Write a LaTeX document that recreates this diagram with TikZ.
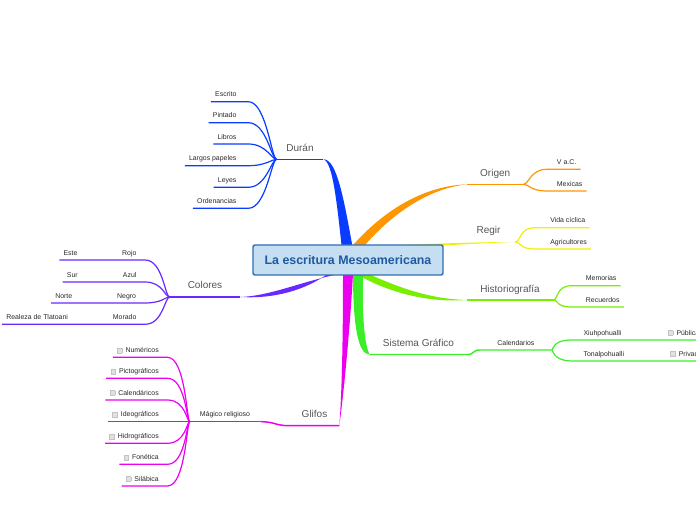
\documentclass[tikz,border=0pt]{standalone}
\usepackage{fontspec}
\setmainfont{Liberation Sans}
\usepackage{tikz}
\usetikzlibrary{backgrounds}
\definecolor{cRootFill}{RGB}{198,222,242}
\definecolor{cRootLine}{RGB}{46,110,180}
\definecolor{cRootText}{RGB}{30,90,160}
\definecolor{cDuran}{RGB}{10,60,255}
\definecolor{cOrigen}{RGB}{255,150,0}
\definecolor{cRegir}{RGB}{240,240,0}
\definecolor{cHisto}{RGB}{120,238,0}
\definecolor{cSistema}{RGB}{60,238,40}
\definecolor{cColores}{RGB}{105,40,255}
\definecolor{cGlifos}{RGB}{235,0,240}
\definecolor{cLabel}{RGB}{85,85,85}
\definecolor{cLeaf}{RGB}{40,40,40}
\definecolor{cChkFill}{RGB}{225,225,225}
\definecolor{cChkLine}{RGB}{195,195,195}
\newcommand{\chkbx}{{\setlength{\fboxsep}{0pt}\setlength{\fboxrule}{0.4pt}\fcolorbox{cChkLine}{cChkFill}{\rule{0pt}{3.2pt}\rule{3.2pt}{0pt}}}\hspace{2.4pt}}
\tikzset{
	root/.style  ={rectangle, draw=cRootLine, fill=cRootFill, line width=1.1pt, rounded corners=1.5pt, minimum width=142.5pt, minimum height=22.5pt, font=\bfseries\fontsize{9.3}{11}\selectfont, text=cRootText},
	branch/.style={anchor=south, inner xsep=0pt, inner ysep=5.8pt, text depth=0pt, font=\fontsize{7.5}{9}\selectfont, text=cLabel},
	leaf/.style  ={inner xsep=3pt, inner ysep=3.4pt, text depth=0pt, font=\fontsize{5.2}{6}\selectfont, text=cLeaf},
	leafL/.style ={leaf, anchor=south east},
	leafR/.style ={leaf, anchor=south west},
	leafM/.style ={leaf, anchor=south, inner xsep=0pt},
	limb/.style  ={line width=1.1pt},
	twig/.style  ={line width=0.9pt},
}
\begin{document}
\begin{tikzpicture}[x=0.75pt, y=-0.75pt]
	\useasboundingbox (0,0) rectangle (696,520);
	\node[root] (root) at (348,260) {La escritura Mesoamericana};
	\node[branch, minimum width=34.8pt] (duran) at (300,159.3) {Durán};
	\node[branch, minimum width=42.2pt] (origen) at (495.2,184.3) {Origen};
	\node[branch, minimum width=39.8pt] (regir) at (488.5,242) {Regir};
	\node[branch, minimum width=64.5pt] (historio) at (510,300) {Historiografía};
	\node[branch, minimum width=72.8pt] (sistema) at (418.5,354.5) {Sistema Gráfico};
	\node[branch, minimum width=52.5pt] (colores) at (205,297) {Colores};
	\node[branch, minimum width=36.8pt] (glifos) at (314.5,425.7) {Glifos};
	\begin{scope}[on background layer]
		\fill[cDuran] ([shift={(-6,5)}]root.north) .. controls (337,205) and (333,162) .. (duran.south east) .. controls (337,159) and (344,200) .. ([shift={(5,5)}]root.north) -- cycle;
		\fill[cOrigen] ([shift={(4,2)}]root.north) .. controls (382,212) and (422,186) .. (origen.south west) .. controls (425,189) and (388,218) .. ([shift={(16,2)}]root.north) -- cycle;
		\fill[cRegir] ([shift={(47,1)}]root.north) .. controls (440,243.5) and (480,242) .. (regir.south east) .. controls (480,243) and (440,246) .. ([shift={(47,4)}]root.north) -- cycle;
		\fill[cHisto] ([shift={(20,-2)}]root.south) .. controls (400,288) and (430,299) .. (historio.south west) .. controls (425,303) and (385,291) .. ([shift={(8,-2)}]root.south) -- cycle;
		\fill[cSistema] ([shift={(5,-2)}]root.south) .. controls (353,325) and (358,355) .. (sistema.south west) .. controls (364,345) and (362,310) .. ([shift={(15,-2)}]root.south) -- cycle;
		\fill[cColores] ([shift={(-8,-2)}]root.south) .. controls (300,282) and (270,296) .. (colores.south east) .. controls (275,299) and (305,290) .. ([shift={(-20,-2)}]root.south) -- cycle;
		\fill[cGlifos] ([shift={(-5,-2)}]root.south) .. controls (343,360) and (341,405) .. (glifos.south east) .. controls (343,400) and (350,330) .. ([shift={(5,-2)}]root.south) -- cycle;
	\end{scope}
	% Durán
	\node[leafL] (escrito) at (240.7,101.7) {Escrito};
	\node[leafL] (pintado) at (240.7,122.7) {Pintado};
	\node[leafL] (libros) at (240.7,144) {Libros};
	\node[leafL] (largos) at (240.7,165.7) {Largos papeles};
	\node[leafL] (leyes) at (240.7,187.3) {Leyes};
	\node[leafL] (ordenancias) at (240.7,208.3) {Ordenancias};
	\draw[limb, cDuran] (duran.south east) -- (duran.south west);
	\foreach \n in {escrito, pintado, libros, largos, leyes, ordenancias}
		\draw[twig, cDuran] (duran.south west) .. controls +(-5,0) and +(18,0) .. ([shift={(7.6,0)}]\n.south east) -- (\n.south west);
	% Origen
	\node[leafR] (vac) at (552.7,169.3) {V a.C.};
	\node[leafR] (mexicas) at (552.7,191) {Mexicas};
	\draw[limb, cOrigen] (origen.south west) -- (origen.south east);
	\foreach \n in {vac, mexicas}
		\draw[twig, cOrigen] (origen.south east) .. controls +(5,0) and +(-16,0) .. ([shift={(-6,0)}]\n.south west) -- (\n.south east);
	% Regir
	\node[leafR] (vida) at (546,227.7) {Vida cíclica};
	\node[leafR] (agricultores) at (546,249) {Agricultores};
	\foreach \n in {vida, agricultores}
		\draw[twig, cRegir] (regir.south east) .. controls +(5,0) and +(-14,0) .. ([shift={(-12,0)}]\n.south west) -- (\n.south east);
	% Historiografía
	\node[leafR] (memorias) at (581.7,285.7) {Memorias};
	\node[leafR] (recuerdos) at (581.7,307) {Recuerdos};
	\draw[limb, cHisto] (historio.south west) -- (historio.south east);
	\foreach \n in {memorias, recuerdos}
		\draw[twig, cHisto] (historio.south east) .. controls +(5,0) and +(-16,0) .. ([shift={(-10,0)}]\n.south west) -- (\n.south east);
	% Sistema Gráfico
	\node[leafM, minimum width=53.8pt] (calendarios) at (515.9,350) {Calendarios};
	\node[leafR] (xiuh) at (579.3,340) {Xiuhpohualli};
	\node[leafR] (tonal) at (579.3,361) {Tonalpohualli};
	\node[leafR] (publica) at (663.7,340) {\chkbx Pública};
	\node[leafR] (privada) at (666,361) {\chkbx Privada};
	\draw[limb, cSistema] (sistema.south west) -- (sistema.south east) .. controls +(7,0) and +(-7,0) .. (calendarios.south west) -- (calendarios.south east);
	\draw[twig, cSistema] (calendarios.south east) .. controls +(3,-8) and +(-12,0) .. ([shift={(-6,0)}]xiuh.south west) -- (publica.south east);
	\draw[twig, cSistema] (calendarios.south east) .. controls +(3,8) and +(-12,0) .. ([shift={(-6,0)}]tonal.south west) -- (privada.south east);
	% Colores
	\node[leafL] (rojo) at (140.7,260) {Rojo};
	\node[leafR] (este) at (59.3,260) {Este};
	\node[leafL] (azul) at (140.7,282) {Azul};
	\node[leafR] (sur) at (62.7,282) {Sur};
	\node[leafL] (negro) at (140.3,303) {Negro};
	\node[leafR] (norte) at (51,303) {Norte};
	\node[leafL] (morado) at (140.7,324.3) {Morado};
	\node[leafR] (realeza) at (2,324.3) {Realeza de Tlatoani};
	\draw[limb, cColores] (colores.south east) -- (colores.south west);
	\foreach \n/\m in {rojo/este, azul/sur, negro/norte, morado/realeza}
		\draw[twig, cColores] (colores.south west) .. controls +(-5,0) and +(18,0) .. ([shift={(4.3,0)}]\n.south east) -- (\m.south west);
	% Glifos
	\node[leafM, minimum width=52.5pt] (magico) at (225,421.7) {Mágico religioso};
	\node[leafL] (numericos) at (163,357.3) {\chkbx Numéricos};
	\node[leafL] (pictograficos) at (163,378.3) {\chkbx Pictográficos};
	\node[leafL] (calendaricos) at (163,400) {\chkbx Calendáricos};
	\node[leafL] (ideograficos) at (163,421.7) {\chkbx Ideográficos};
	\node[leafL] (hidrograficos) at (163,443.3) {\chkbx Hidrográficos};
	\node[leafL] (fonetica) at (163,464.3) {\chkbx Fonética};
	\node[leafL] (silabica) at (163,486) {\chkbx Silábica};
	\draw[limb, cGlifos] (glifos.south east) -- (glifos.south west) .. controls +(-15,0) and +(15,0) .. (magico.south east);
	\draw[twig, cGlifos] (magico.south east) -- (magico.south west);
	\foreach \n in {numericos, pictograficos, calendaricos, ideograficos, hidrograficos, fonetica, silabica}
		\draw[twig, cGlifos] (magico.south west) .. controls +(-3,0) and +(18,0) .. ([shift={(4.5,0)}]\n.south east) -- (\n.south west);
\end{tikzpicture}
\end{document}
